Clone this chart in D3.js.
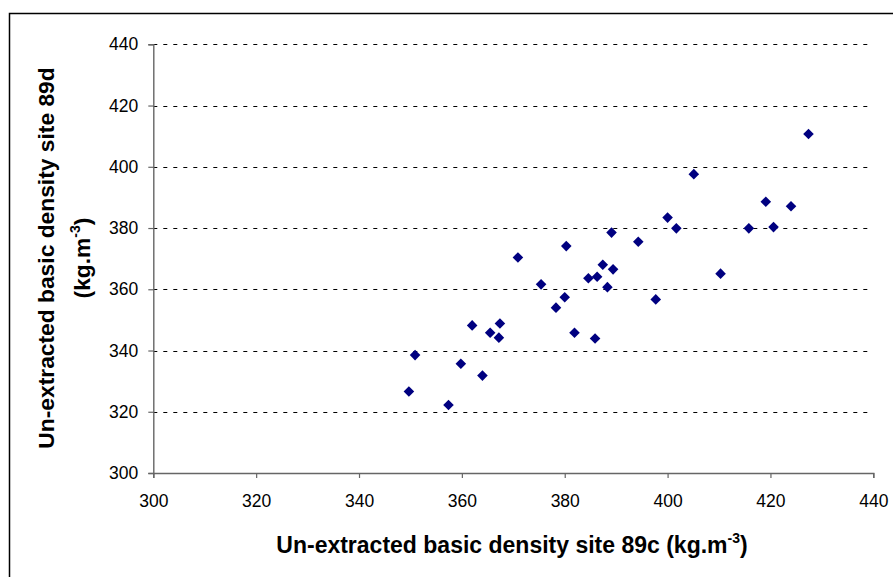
<!DOCTYPE html>
<html lang="en">
<head>
    <meta charset="UTF-8">
    <title>Basic density 89c vs 89d</title>
    <script src="https://d3js.org/d3.v7.min.js"></script>
    <style>
        body { margin: 0; background: #fff; }
        svg { display: block; font-family: "Liberation Sans", Arial, sans-serif; }
    </style>
</head>
<body>
    <script>
    // density at site 89c (x) and site 89d (y), kg.m-3
    const site89c = [427.4, 405.1, 419.1, 424.0, 400.0, 401.7, 415.8, 420.6, 389.1, 394.3,
                     380.3, 370.9, 387.4, 389.4, 410.3, 384.6, 386.3, 375.4, 388.3, 380.0,
                     397.7, 378.3, 362.0, 367.4, 365.5, 367.2, 381.9, 385.9, 350.9, 359.8,
                     364.0, 349.7, 357.4];
    const site89d = [410.7, 397.6, 388.6, 387.1, 383.4, 379.9, 379.9, 380.3, 378.5, 375.5,
                     374.1, 370.4, 368.0, 366.5, 365.1, 363.6, 364.1, 361.6, 360.7, 357.4,
                     356.7, 354.0, 348.2, 348.8, 345.8, 344.2, 345.8, 343.9, 338.5, 335.7,
                     331.8, 326.6, 322.2];
    const tickValues = [300, 320, 340, 360, 380, 400, 420, 440];

    const points = site89c.map((x, i) => ({ x: x, y: site89d[i] }));

    const W = 893, H = 577;
    const plotLeft = 153.3, plotRight = 873.3, plotTop = 44.3, plotBottom = 473;

    const svg = d3.select("body").append("svg")
        .attr("width", W)
        .attr("height", H);

    // outer chart frame (runs off the right and bottom of the picture)
    svg.append("rect")
        .attr("x", 9.5).attr("y", 13.5)
        .attr("width", 900).attr("height", 600)
        .attr("fill", "none")
        .attr("stroke", "#000")
        .attr("stroke-width", 1.5);

    const xScale = d3.scaleLinear().domain([300, 440]).range([plotLeft, plotRight]);
    const yScale = d3.scaleLinear().domain([300, 440]).range([plotBottom, plotTop]);

    // dashed horizontal gridlines
    svg.append("g")
        .selectAll("line")
        .data(tickValues.slice(1))
        .enter()
        .append("line")
        .attr("x1", plotLeft).attr("x2", plotRight - 4)
        .attr("y1", d => Math.round(yScale(d)) + 0.5)
        .attr("y2", d => Math.round(yScale(d)) + 0.5)
        .attr("stroke", "#000")
        .attr("stroke-dasharray", "4,6");

    // axes
    const xAxis = svg.append("g")
        .attr("transform", `translate(0,${plotBottom})`)
        .call(d3.axisBottom(xScale).tickValues(tickValues).tickSize(5).tickPadding(17).tickFormat(d3.format("d")));
    const yAxis = svg.append("g")
        .attr("transform", `translate(${plotLeft},0)`)
        .call(d3.axisLeft(yScale).tickValues(tickValues).tickSize(5).tickPadding(10).tickFormat(d3.format("d")));

    [xAxis, yAxis].forEach(a => {
        a.select(".domain").attr("stroke", "#666").attr("stroke-width", 1.4);
        a.selectAll(".tick line").attr("stroke", "#666").attr("stroke-width", 1.2);
        a.selectAll(".tick text").attr("font-size", 17.5).attr("fill", "#000")
            .attr("font-family", "'Liberation Sans', Arial, sans-serif");
    });

    // diamond markers
    const diamond = d3.symbol().type(d3.symbolSquare).size(56);
    svg.append("g")
        .selectAll("path")
        .data(points)
        .enter()
        .append("path")
        .attr("d", diamond)
        .attr("transform", d => `translate(${xScale(d.x)},${yScale(d.y)}) rotate(45)`)
        .attr("fill", "#000080");

    // axis titles
    const xt = svg.append("text")
        .attr("x", 512).attr("y", 553)
        .attr("text-anchor", "middle")
        .attr("font-size", 23).attr("font-weight", "bold");
    xt.append("tspan").text("Un-extracted basic density site 89c (kg.m");
    xt.append("tspan").attr("dy", -10).attr("font-size", 14).text("-3");
    xt.append("tspan").attr("dy", 10).text(")");

    const yt = svg.append("g")
        .attr("transform", "translate(0,258) rotate(-90)")
        .attr("text-anchor", "middle")
        .attr("font-size", 22.8).attr("font-weight", "bold");
    yt.append("text").attr("x", 0).attr("y", 54)
        .text("Un-extracted basic density site 89d");
    const yt2 = yt.append("text").attr("x", 0).attr("y", 90);
    yt2.append("tspan").text("(kg.m");
    yt2.append("tspan").attr("dy", -10).attr("font-size", 14).text("-3");
    yt2.append("tspan").attr("dy", 10).text(")");
    </script>
</body>
</html>
